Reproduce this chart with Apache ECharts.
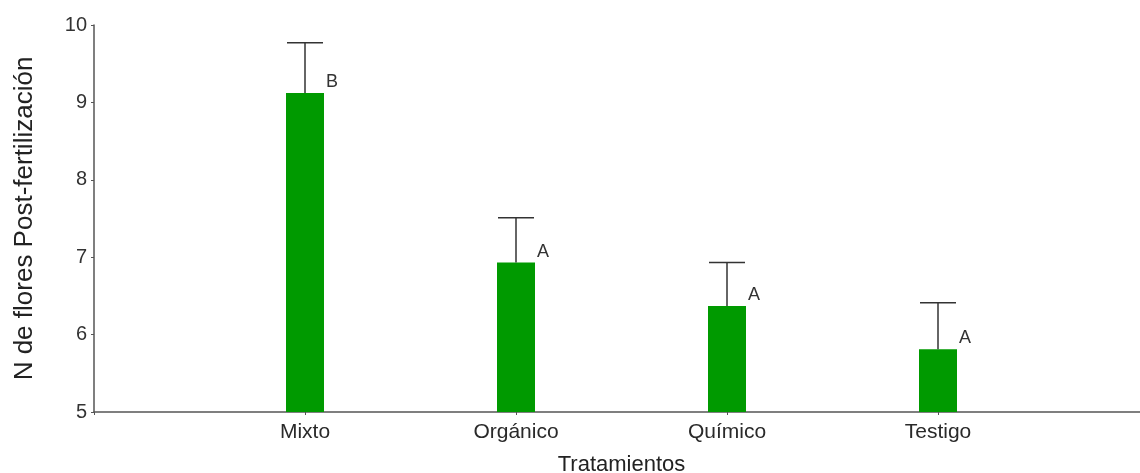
<!DOCTYPE html>
<html>
<head>
<meta charset="utf-8">
<script src="https://cdn.jsdelivr.net/npm/echarts@6/dist/echarts.min.js"></script>
<style>
  html, body { margin: 0; padding: 0; background: #fff; }
  #chart { width: 1140px; height: 473px; }
</style>
</head>
<body>
<div id="chart"></div>
<script>
// Treatments and their mean number of flowers after fertilization
var categories = ['Mixto', 'Orgánico', 'Químico', 'Testigo'];
var means = [9.12, 6.93, 6.37, 5.81];
var upper = [9.77, 7.51, 6.93, 6.41];   // mean + error
var letters = ['B', 'A', 'A', 'A'];     // significance groups
var yTicks = [5, 6, 7, 8, 9, 10];

// Empty slots at both ends give the margin left and right of the bars
var axisCats = [''].concat(categories, ['']);
var barData = [null].concat(means, [null]);
var errData = categories.map(function (c, i) { return [c, means[i], upper[i], letters[i]]; });

var FONT = 'Arial, "Liberation Sans", sans-serif';
var chart = echarts.init(document.getElementById('chart'));

chart.setOption({
  animation: false,
  backgroundColor: '#ffffff',
  grid: { left: 94, top: 25, width: 1055, height: 387, outerBoundsMode: 'none', containLabel: false },
  xAxis: {
    type: 'category',
    data: axisCats,
    boundaryGap: false,
    name: 'Tratamientos',
    nameLocation: 'middle',
    nameGap: 42,
    nameTextStyle: { fontFamily: FONT, fontSize: 22, color: '#222' },
    axisLine: { lineStyle: { color: '#555', width: 1.5 } },
    axisTick: { show: true, length: 3, lineStyle: { color: '#555' } },
    axisLabel: { fontFamily: FONT, fontSize: 21, color: '#2a2a2a', margin: 10 }
  },
  yAxis: {
    type: 'value',
    min: yTicks[0],
    max: yTicks[yTicks.length - 1],
    interval: 1,
    name: 'N de flores Post-fertilización',
    nameLocation: 'middle',
    nameGap: 56,
    nameTextStyle: { fontFamily: FONT, fontSize: 26, color: '#222' },
    axisLine: { show: true, lineStyle: { color: '#555', width: 1.5 } },
    axisTick: { show: true, length: 3, lineStyle: { color: '#555' } },
    splitLine: { show: false },
    axisLabel: { fontFamily: FONT, fontSize: 20, color: '#333', margin: 7 }
  },
  series: [
    {
      type: 'bar',
      data: barData,
      barWidth: 38,
      itemStyle: { color: '#009a00' }
    },
    {
      // upper error bars with caps, plus the group letter beside each bar
      type: 'custom',
      data: errData,
      z: 5,
      renderItem: function (params, api) {
        var top = api.coord([api.value(0), api.value(2)]);
        var base = api.coord([api.value(0), api.value(1)]);
        var x = base[0];
        var half = 18;
        var ls = { stroke: '#333', lineWidth: 1.5 };
        return {
          type: 'group',
          children: [
            { type: 'line', shape: { x1: x, y1: base[1], x2: x, y2: top[1] }, style: ls },
            { type: 'line', shape: { x1: x - half, y1: top[1], x2: x + half, y2: top[1] }, style: ls },
            {
              type: 'text',
              x: x + 21, y: base[1] - 2,
              style: {
                text: letters[params.dataIndex],
                fontFamily: FONT, fontSize: 18, fill: '#333',
                align: 'left', verticalAlign: 'bottom'
              }
            }
          ]
        };
      }
    }
  ]
});
</script>
</body>
</html>
